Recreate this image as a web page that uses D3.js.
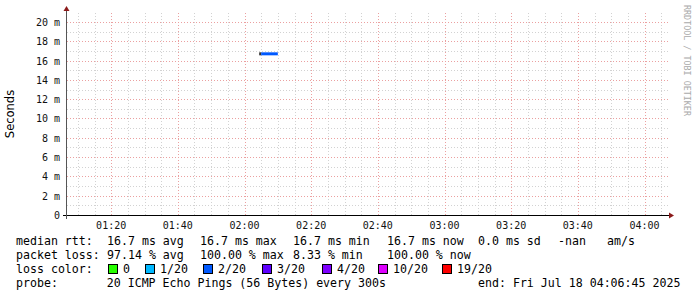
<!DOCTYPE html>
<html><head><meta charset="utf-8">
<script src="https://cdn.jsdelivr.net/npm/d3@7"></script>
<style>
html,body{margin:0;padding:0;background:#fff;}
svg{display:block;}
text{font-family:"DejaVu Sans Mono",monospace;}
</style></head>
<body>
<script>
// ---- data ----
const startTime = new Date(2025, 6, 18, 1, 6, 45);
const endTime = new Date(2025, 6, 18, 4, 6, 45);
const yTickValues = [0, 2, 4, 6, 8, 10, 12, 14, 16, 18, 20];
const yTickLabels = ["0", "2 m", "4 m", "6 m", "8 m", "10 m", "12 m", "14 m", "16 m", "18 m", "20 m"];
const xTickLabels = ["01:20", "01:40", "02:00", "02:20", "02:40", "03:00", "03:20", "03:40", "04:00"];
const sampleStarts = [new Date(2025, 6, 18, 2, 5, 0)];
const sampleEnds = [new Date(2025, 6, 18, 2, 10, 0)];
const sampleMedian = [16.7];   // ms
const sampleLossColor = ["#0059ff"];
const lossLabels = ["0", "1/20", "2/20", "3/20", "4/20", "10/20", "19/20"];
const lossColors = ["#26ff00", "#00b8ff", "#0059ff", "#5e00ff", "#7e00ff", "#dd00ff", "#ff0000"];
const legendLine1 = ["median rtt:", "16.7 ms avg", "16.7 ms max", "16.7 ms min", "16.7 ms now", "0.0 ms sd", "-nan", "am/s"];
const legendLine2 = ["packet loss:", "97.14 % avg", "100.00 % max", "8.33 % min", "100.00 % now"];
const probeText = "probe:       20 ICMP Echo Pings (56 Bytes) every 300s";
const endText = "end: Fri Jul 18 04:06:45 2025";

const W = 697, H = 297;
const L = 67, R = 667, T = 13, B = 215;
const svg = d3.select("body").append("svg").attr("width", W).attr("height", H);

const x = d3.scaleTime().domain([startTime, endTime]).range([L, R]);
const y = d3.scaleLinear().domain([0, 20.93]).range([B, T]);

// minor grid
const minorY = d3.range(1, 21, 1);
svg.append("g").selectAll("line").data(minorY).join("line")
  .attr("x1", L).attr("x2", R + 2).attr("y1", d => Math.round(y(d)) + 0.5).attr("y2", d => Math.round(y(d)) + 0.5)
  .attr("stroke", "#d2d2d2").attr("stroke-width", 1).attr("stroke-dasharray", "1,2");
const minorX = d3.timeMinute.every(5).range(startTime, endTime);
svg.append("g").selectAll("line").data(minorX).join("line")
  .attr("x1", d => Math.round(x(d)) + 0.5).attr("x2", d => Math.round(x(d)) + 0.5).attr("y1", T).attr("y2", B)
  .attr("stroke", "#d2d2d2").attr("stroke-width", 1).attr("stroke-dasharray", "1,2");
// major grid
svg.append("g").selectAll("line").data(yTickValues.slice(1)).join("line")
  .attr("x1", L).attr("x2", R + 2).attr("y1", d => Math.round(y(d)) + 0.5).attr("y2", d => Math.round(y(d)) + 0.5)
  .attr("stroke", "#eba0a0").attr("stroke-width", 1).attr("stroke-dasharray", "1,2");
const majorX = d3.timeMinute.every(20).range(startTime, endTime);
svg.append("g").selectAll("line").data(majorX).join("line")
  .attr("x1", d => Math.round(x(d)) + 0.5).attr("x2", d => Math.round(x(d)) + 0.5).attr("y1", T).attr("y2", B)
  .attr("stroke", "#eba0a0").attr("stroke-width", 1).attr("stroke-dasharray", "1,2");

// data: smoke marker + median line
svg.append("g").selectAll("rect").data(sampleStarts).join("rect")
  .attr("x", d => x(d) - 2).attr("y", (d, i) => y(sampleMedian[i]) - 1.5).attr("width", 2).attr("height", 3)
  .attr("fill", "#333");
svg.append("g").selectAll("line").data(sampleStarts).join("line")
  .attr("x1", d => x(d)).attr("x2", (d, i) => x(sampleEnds[i]))
  .attr("y1", (d, i) => y(sampleMedian[i])).attr("y2", (d, i) => y(sampleMedian[i]))
  .attr("stroke", (d, i) => sampleLossColor[i]).attr("stroke-width", 3);

// axes lines
svg.append("line").attr("x1", L - 4).attr("x2", R + 2).attr("y1", B + 0.5).attr("y2", B + 0.5).attr("stroke", "#000");
svg.append("line").attr("x1", L - 0.5).attr("x2", L - 0.5).attr("y1", T - 3).attr("y2", B + 4).attr("stroke", "#555");
// arrows
svg.append("path").attr("d", `M${L - 3.5},${T - 2} L${L + 2.5},${T - 2} L${L - 0.5},${T - 7} Z`).attr("fill", "#8b1a1a");
svg.append("path").attr("d", `M${R + 2},${B - 2.5} L${R + 2},${B + 3.5} L${R + 7},${B + 0.5} Z`).attr("fill", "#8b1a1a");

// y ticks
svg.append("g").selectAll("text").data(yTickValues).join("text")
  .attr("x", 60).attr("y", d => y(d) + 4).attr("text-anchor", "end")
  .attr("font-size", "10px").attr("fill", "#111").text((d, i) => yTickLabels[i]);
// x ticks
svg.append("g").selectAll("text").data(majorX).join("text")
  .attr("x", d => x(d)).attr("y", 229).attr("text-anchor", "middle")
  .attr("font-size", "10px").attr("fill", "#111").text((d, i) => xTickLabels[i]);

// y label
svg.append("text").attr("transform", "translate(14,114) rotate(-90)").attr("text-anchor", "middle")
  .style("font-family", "DejaVu Sans, sans-serif")
  .attr("font-size", "11.5px").attr("fill", "#000").text("Seconds");
// right watermark
svg.append("text").attr("transform", "translate(684,5) rotate(90)").attr("text-anchor", "start")
  .attr("font-size", "8.4px").attr("fill", "#aaa").text("RRDTOOL / TOBI OETIKER");

// legend
const fs = "11.6px";
const line1X = [16, 107, 200, 293, 387, 478, 558, 607];
const line2X = [16, 107, 200, 293, 387];
svg.append("g").selectAll("text").data(legendLine1).join("text")
  .attr("x", (d, i) => line1X[i]).attr("y", 245).attr("font-size", fs).attr("fill", "#000")
  .text(d => d);
svg.append("g").selectAll("text").data(legendLine2).join("text")
  .attr("x", (d, i) => line2X[i]).attr("y", 259).attr("font-size", fs).attr("fill", "#000")
  .text(d => d);
svg.append("text").attr("x", 16).attr("y", 273).attr("font-size", fs).attr("fill", "#000").text("loss color:");
const boxX = [108, 145, 203, 262, 322, 378, 442];
const lg = svg.append("g").selectAll("g").data(lossLabels).join("g");
lg.append("rect").attr("x", (d, i) => boxX[i] + 0.5).attr("y", 264.5).attr("width", 9).attr("height", 9)
  .attr("fill", (d, i) => lossColors[i]).attr("stroke", "#000").attr("stroke-width", 1);
lg.append("text").attr("x", (d, i) => boxX[i] + 15).attr("y", 273).attr("font-size", fs).attr("fill", "#000").text(d => d);
svg.append("text").attr("x", 16).attr("y", 287).attr("font-size", fs).attr("fill", "#000")
  .style("white-space", "pre").text(probeText);
svg.append("text").attr("x", 478).attr("y", 287).attr("font-size", fs).attr("fill", "#000").text(endText);
</script>
</body></html>
